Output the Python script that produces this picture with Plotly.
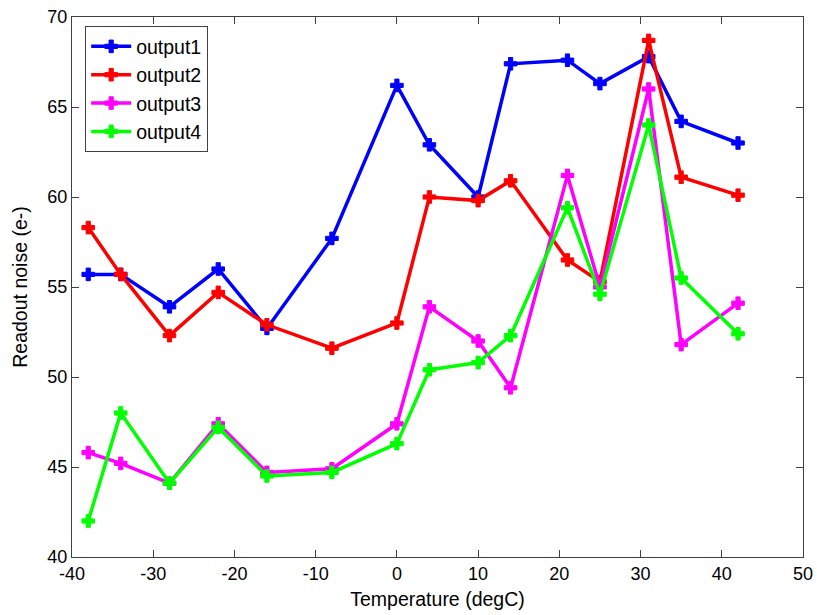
import plotly.graph_objects as go

# Temperature set points (degC)
temperature = [-38, -34, -28, -22, -16, -8, 0, 4, 10, 14, 21, 25, 31, 35, 42]

# Readout noise per output channel (e-)
output1 = [55.7, 55.7, 53.9, 56.0, 52.7, 57.7, 66.2, 62.9, 60.0, 67.4, 67.6, 66.3, 67.8, 64.2, 63.0]
output2 = [58.3, 55.7, 52.3, 54.7, 52.9, 51.6, 53.0, 60.0, 59.8, 60.9, 56.5, 55.3, 68.7, 61.1, 60.1]
output3 = [45.8, 45.2, 44.1, 47.4, 44.7, 44.9, 47.4, 53.9, 52.0, 49.4, 61.2, 55.0, 66.0, 51.8, 54.1]
output4 = [42.0, 48.0, 44.1, 47.2, 44.5, 44.7, 46.3, 50.4, 50.8, 52.3, 59.4, 54.6, 64.0, 55.5, 52.4]

# Axis ticks
x_ticks = [-40, -30, -20, -10, 0, 10, 20, 30, 40, 50]
y_ticks = [40, 45, 50, 55, 60, 65, 70]

series = [
    ("output1", output1, "#0000FF"),
    ("output2", output2, "#FF0000"),
    ("output3", output3, "#FF00FF"),
    ("output4", output4, "#00FF00"),
]

FONT = "Liberation Sans, Arial, sans-serif"

fig = go.Figure()
for i, (name, vals, color) in enumerate(series):
    fig.add_trace(go.Scatter(
        x=temperature, y=vals, name=name, mode="lines+markers",
        legendgroup=f"g{i}",
        line=dict(color=color, width=3.5),
        marker=dict(symbol="cross", size=10.5, color=color,
                    line=dict(color=color, width=1)),
    ))

axis_common = dict(
    showline=True, mirror="ticks", linecolor="#404040", linewidth=1,
    ticks="inside", ticklen=7, tickcolor="#404040", tickwidth=1,
    showgrid=False, zeroline=False, automargin=False,
    tickfont=dict(family=FONT, size=18, color="#000000"),
)

fig.update_xaxes(
    range=[-40, 50], tickvals=x_ticks, ticktext=[str(v) for v in x_ticks],
    title=dict(text="Temperature (degC)", font=dict(family=FONT, size=19.5, color="#000000"), standoff=9),
    **axis_common,
)
fig.update_yaxes(
    range=[40, 70], tickvals=y_ticks, ticktext=[str(v) for v in y_ticks],
    title=dict(text="Readout noise (e-)", font=dict(family=FONT, size=19.5, color="#000000"), standoff=14),
    **axis_common,
)

fig.update_layout(
    width=817, height=615,
    margin=dict(l=72, r=14, t=17, b=58),
    plot_bgcolor="#FFFFFF", paper_bgcolor="#FFFFFF",
    font=dict(family=FONT, color="#000000"),
    legend=dict(
        x=0.018, y=0.983, xanchor="left", yanchor="top",
        bgcolor="#FFFFFF", bordercolor="#404040", borderwidth=1,
        font=dict(family=FONT, size=19.5, color="#000000"),
        traceorder="grouped", tracegroupgap=0,
        itemwidth=40,
    ),
)

fig.write_html("out.html")
